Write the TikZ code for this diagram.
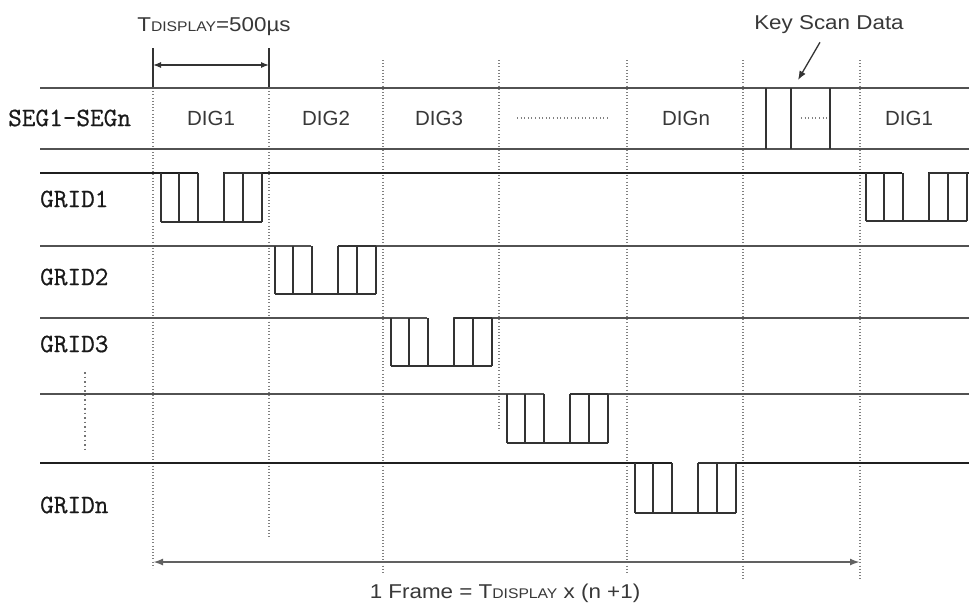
\documentclass[tikz,border=0pt]{standalone}
\usepackage{fontspec}
\setmainfont{Liberation Sans}
\newfontfamily\gridfont{Latin Modern Mono}[FakeBold=0.6]
\usepackage{graphicx}
\usetikzlibrary{arrows.meta}
\tikzset{
  rowthin/.style={draw=black!68, line width=1.6pt},
  rowthick/.style={draw=black!88, line width=2.8pt},
  pulseln/.style={draw=black!80, line width=1.4pt},
  vdot/.style={draw=black!50, line width=1.2pt, dash pattern=on 1pt off 2.2pt},
  vdotbig/.style={draw=black!55, line width=1.8pt, dash pattern=on 1.5pt off 3pt},
  hdots/.style={draw=black!50, line width=1.2pt, dash pattern=on 1pt off 2.6pt},
  tick/.style={draw=black!80, line width=1.4pt},
  dimarrow/.style={draw=black!80, line width=1.2pt, {Latex[length=8pt,width=6pt]}-{Latex[length=8pt,width=6pt]}},
  framearrow/.style={draw=black!62, line width=2pt, {Latex[length=10pt,width=7pt]}-{Latex[length=10pt,width=7pt]}},
  keyarrow/.style={draw=black!80, line width=1.3pt, -{Latex[length=9pt,width=7pt]}},
  monolbl/.style={font={\fontsize{26.5}{28}\selectfont\gridfont}, text=black!90, inner sep=0pt},
  diglbl/.style={font={\fontsize{20.5}{22}\selectfont}, text=black!78, inner sep=0pt},
  sanslbl/.style={font={\fontsize{20}{22}\selectfont}, text=black!78, inner sep=0pt},
}
\newcommand\drawpulse[3]{% x start, y top, y bottom
  \draw[pulseln] (#1,#3) -- (#1+101,#3);
  \foreach \o in {0,18,37,63,82,101} {\draw[pulseln] (#1+\o,#2) -- (#1+\o,#3);}
  \draw[pulseln] (#1+63,#2) -- (#1+101,#2);
}
\newcommand\tdispl{T{\fontsize{14}{16}\selectfont DISPLAY}}
\begin{document}
\begin{tikzpicture}[x=1pt,y=-1pt]
\useasboundingbox (0,0) rectangle (969,606);
\fill[white] (0,0) rectangle (969,606);

% vertical dotted guides
\draw[vdot] (153,88) -- (153,568);
\draw[vdot] (269,88) -- (269,537);
\draw[vdot] (383,60) -- (383,573);
\draw[vdot] (499,60) -- (499,430);
\draw[vdot] (627,60) -- (627,573);
\draw[vdot] (743,60) -- (743,580);
\draw[vdot] (860,60) -- (860,580);

% T_display ticks and arrow
\draw[tick] (153,48) -- (153,88);
\draw[tick] (269,48) -- (269,88);
\coordinate (ta) at (153,65);
\coordinate (tb) at (269,65);
\draw[dimarrow] (ta) -- (tb);
\node[sanslbl] (tdisp) at (214,27) {\scalebox{1.12}[1]{\tdispl=500µs}};

% SEG row
\draw[rowthin] (40,88) -- (969,88);
\draw[rowthin] (40,149) -- (969,149);
\node[monolbl, anchor=west] (seg) at (8,118) {SEG1-SEGn};
\node[diglbl] (d1) at (211,118) {DIG1};
\node[diglbl] (d2) at (326,118) {DIG2};
\node[diglbl] (d3) at (439,118) {DIG3};
\draw[hdots] (517,118) -- (610,118);
\node[diglbl] (dn) at (686,118) {DIGn};
\draw[pulseln] (766,88) -- (766,149);
\draw[pulseln] (791,88) -- (791,149);
\draw[pulseln] (830,88) -- (830,149);
\draw[hdots] (801,118) -- (827,118);
\node[diglbl] (d1b) at (909,118) {DIG1};

% key scan label
\node[sanslbl] (ksd) at (829,25) {\scalebox{1.12}[1]{Key Scan Data}};
\coordinate (kb) at (798,80);
\draw[keyarrow] ([xshift=-9pt,yshift=-8pt]ksd.south) -- (kb);

% GRID1
\node[monolbl, anchor=west] (g1) at (40,199) {GRID1};
\draw[rowthick] (40,173) -- (198,173);
\draw[rowthick] (223,173) -- (902,173);
\draw[rowthick] (928,173) -- (969,173);
\drawpulse{161}{173}{222}
\drawpulse{866}{173}{221}

% GRID2
\node[monolbl, anchor=west] (g2) at (40,277) {GRID2};
\draw[rowthin] (40,246) -- (311,246);
\draw[rowthin] (338,246) -- (969,246);
\drawpulse{275}{246}{294}

% GRID3
\node[monolbl, anchor=west] (g3) at (40,344) {GRID3};
\draw[rowthin] (40,318) -- (427,318);
\draw[rowthin] (453,318) -- (969,318);
\drawpulse{391}{318}{366}

% vertical ellipsis row
\draw[vdotbig] (85,372) -- (85,450);
\draw[rowthin] (40,394) -- (544,394);
\draw[rowthin] (570,394) -- (969,394);
\drawpulse{507}{394}{443}

% GRIDn
\node[monolbl, anchor=west] (gn) at (40,505) {GRIDn};
\draw[rowthick] (40,463) -- (672,463);
\draw[rowthick] (698,463) -- (969,463);
\drawpulse{635}{463}{513}

% frame arrow
\coordinate (fa) at (153,562);
\coordinate (fb) at (860,562);
\draw[framearrow] (fa) -- (fb);
\node[sanslbl] (frame) at (505,593) {\scalebox{1.12}[1]{1 Frame = \tdispl{} x (n +1)}};
\end{tikzpicture}
\end{document}
